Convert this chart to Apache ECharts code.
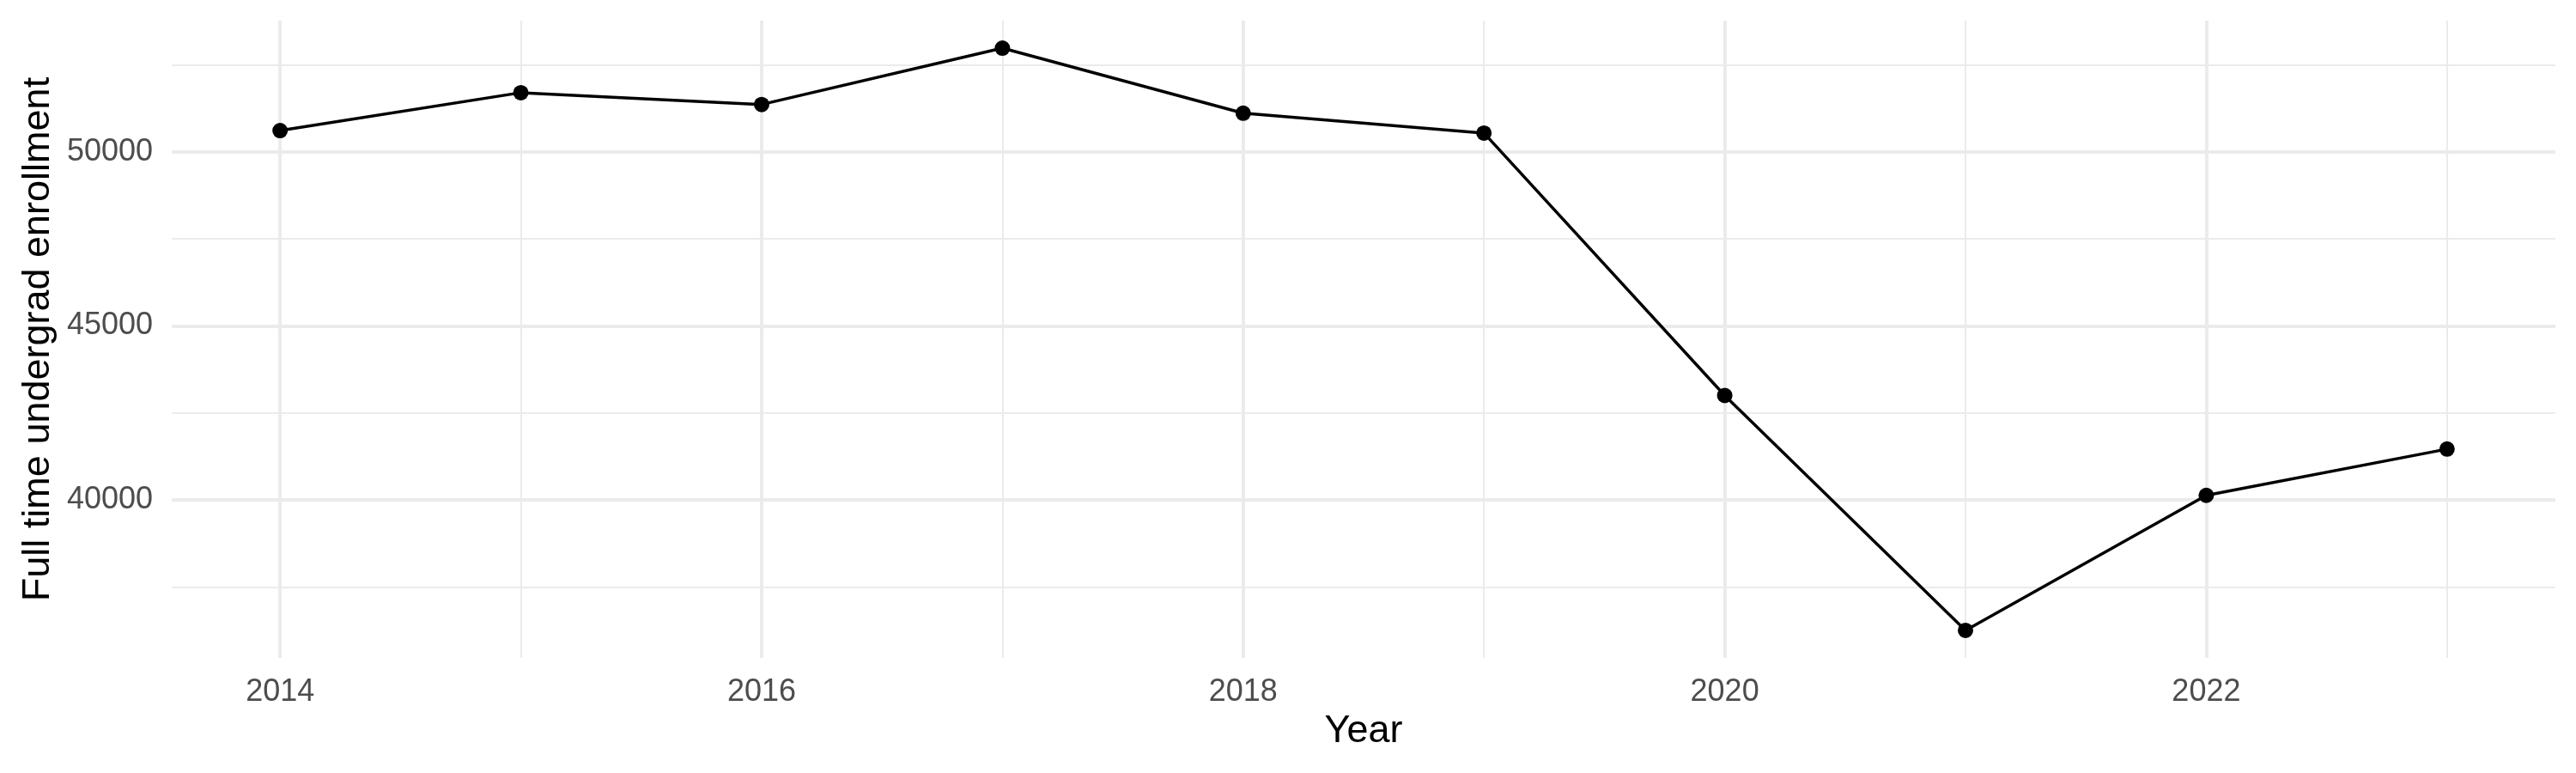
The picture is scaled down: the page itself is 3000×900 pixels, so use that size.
<!DOCTYPE html>
<html lang="en">
<head>
	<meta charset="UTF-8">
	<title>Full time undergrad enrollment</title>
	<script src="https://cdn.jsdelivr.net/npm/echarts@6/dist/echarts.min.js" type="text/javascript"></script>
	<style>
		html, body { margin: 0; padding: 0; background: #fff; }
	</style>
</head>
<body>
	<div id="main" style="width: 3000px;height:900px;"></div>
</body>
</html>

<script type="text/javascript">

var years = [2014, 2015, 2016, 2017, 2018, 2019, 2020, 2021, 2022, 2023];
var enrollment = [50610, 51700, 51360, 52980, 51110, 50540, 43000, 36250, 40130, 41460];

var xMajorTicks = [2014, 2016, 2018, 2020, 2022];
var xMinorTicks = [2015, 2017, 2019, 2021, 2023];
var yMajorTicks = [40000, 45000, 50000];
var yMinorTicks = [37500, 42500, 47500, 52500];

var xRange = [2013.55, 2023.45];
var yRange = [35460, 53770];

var points = years.map(function (y, i) { return [y, enrollment[i]]; });

var font = '"Liberation Sans", Arial, sans-serif';
var gridColor = '#ebebeb';
// plain numbers, no thousands separator
var plain = function (v) { return String(v); };

var chart = echarts.init(document.getElementById("main"));

option = {
	animation: false,
	textStyle: { fontFamily: font },
	grid: { left: 200, right: 24, top: 24, bottom: 134 },
	xAxis: [
		{
			type: 'value',
			min: xRange[0],
			max: xRange[1],
			name: 'Year',
			nameLocation: 'middle',
			nameGap: 62,
			nameTextStyle: { color: '#000', fontSize: 45, fontFamily: font },
			axisLine: { show: false },
			axisTick: { show: false, customValues: xMajorTicks },
			axisLabel: { customValues: xMajorTicks, formatter: plain, color: '#4d4d4d', fontSize: 36, margin: 22, fontFamily: font },
			splitLine: { show: true, lineStyle: { color: gridColor, width: 4 } }
		},
		{
			type: 'value',
			min: xRange[0],
			max: xRange[1],
			position: 'bottom',
			axisLine: { show: false },
			axisTick: { show: false, customValues: xMinorTicks },
			axisLabel: { show: false, customValues: xMinorTicks },
			splitLine: { show: true, lineStyle: { color: gridColor, width: 2 } }
		}
	],
	yAxis: [
		{
			type: 'value',
			min: yRange[0],
			max: yRange[1],
			name: 'Full time undergrad enrollment',
			nameLocation: 'middle',
			nameGap: 133,
			nameTextStyle: { color: '#000', fontSize: 45, fontFamily: font },
			axisLine: { show: false },
			axisTick: { show: false, customValues: yMajorTicks },
			axisLabel: { customValues: yMajorTicks, formatter: plain, color: '#4d4d4d', fontSize: 36, margin: 22, fontFamily: font },
			splitLine: { show: true, lineStyle: { color: gridColor, width: 4 } }
		},
		{
			type: 'value',
			min: yRange[0],
			max: yRange[1],
			position: 'left',
			axisLine: { show: false },
			axisTick: { show: false, customValues: yMinorTicks },
			axisLabel: { show: false, customValues: yMinorTicks },
			splitLine: { show: true, lineStyle: { color: gridColor, width: 2 } }
		}
	],
	series: [
		{
			type: 'line',
			xAxisIndex: 0,
			yAxisIndex: 0,
			data: points,
			symbol: 'circle',
			symbolSize: 18,
			lineStyle: { color: '#000', width: 3.5 },
			itemStyle: { color: '#000' }
		}
	]
};
chart.setOption(option);
</script>
